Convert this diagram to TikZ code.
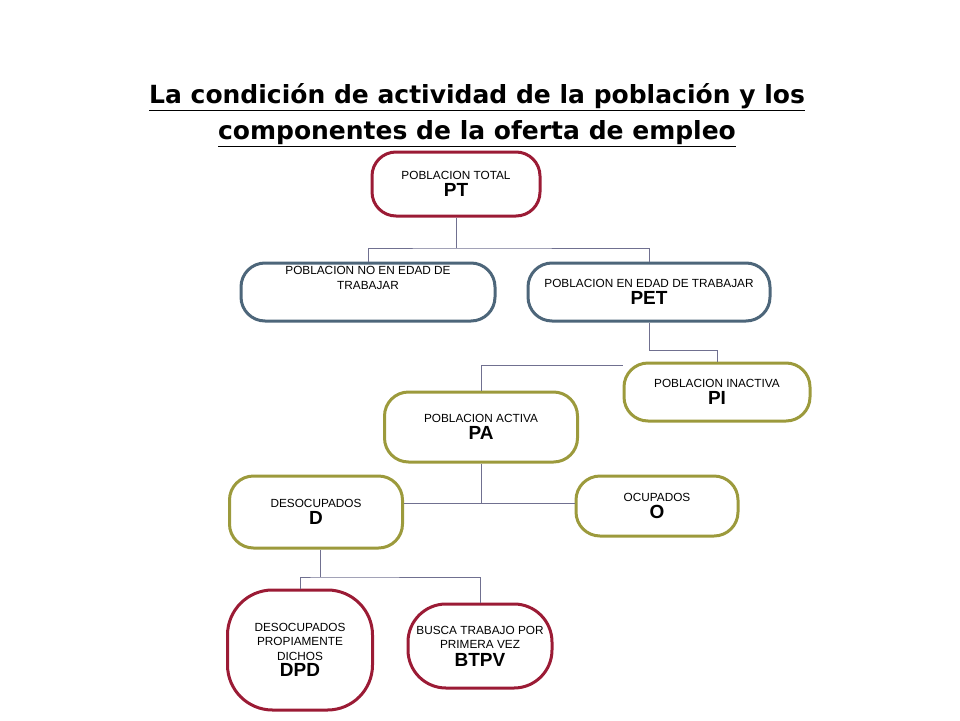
\documentclass[tikz,border=0pt]{standalone}
\usepackage{fontspec}
\setmainfont{Liberation Sans}
\newfontfamily\titlefont{DejaVu Sans}
\definecolor{cred}{HTML}{9B1B35}
\definecolor{cblue}{HTML}{4D667A}
\definecolor{colive}{HTML}{9C9A3C}
\definecolor{cline}{HTML}{707090}
\begin{document}
\begin{tikzpicture}[x=1pt,y=-1pt,
  box/.style={draw, line width=3pt, rounded corners=24pt, align=center, inner sep=0pt, font=\fontsize{11.8}{14.5}\selectfont},
  conn/.style={draw=cline, line width=0.9pt}]
\useasboundingbox (0,0) rectangle (960,720);
\node[font=\titlefont\bfseries\fontsize{25}{36}\selectfont, align=center] (title) at (477,115)
 {\underline{La condición de actividad de la población y los}\\\underline{componentes de la oferta de empleo}};
\newcommand\bx[7]{\node[box, draw=#6, minimum width=#3, minimum height=#4] (#1) at (#2) {#5\\[3pt]{\bfseries\fontsize{19}{20}\selectfont #7}};}
\bx{PT}{456,184}{168}{64}{POBLACION TOTAL}{cred}{PT}
\node[box, draw=cblue, minimum width=254, minimum height=58] (PNET) at (368,292) {POBLACION NO EN EDAD DE\\TRABAJAR\\[14pt]};
\bx{PET}{649,292}{242}{58}{POBLACION EN EDAD DE TRABAJAR}{cblue}{PET}
\bx{PI}{717,392}{186}{58}{POBLACION INACTIVA}{colive}{PI}
\bx{PA}{481,427}{193}{70}{POBLACION ACTIVA}{colive}{PA}
\bx{D}{316,512}{173}{72}{DESOCUPADOS}{colive}{D}
\bx{O}{657,506}{162}{60}{OCUPADOS}{colive}{O}
\node[box, draw=cred, rounded corners=45pt, minimum width=145, minimum height=120] (DPD) at (300,650) {DESOCUPADOS\\PROPIAMENTE\\DICHOS\\[2pt]{\bfseries\fontsize{19}{20}\selectfont DPD}};
\node[box, draw=cred, rounded corners=38pt, minimum width=144, minimum height=84] (BTPV) at (480,646) {BUSCA TRABAJO POR\\PRIMERA VEZ\\[3pt]{\bfseries\fontsize{19}{20}\selectfont BTPV}};
% connectors
\coordinate (j1) at (456,248);
\draw[conn] (PT.south) -- (j1);
\draw[conn] (PNET.north) |- (j1) -| (PET.north);
\draw[conn] (PET.south) -- ++(0,28) -| (PI.north);
\draw[conn] (PA.north) |- (PI.west |- 0,365);
\coordinate (j2) at (481,503);
\draw[conn] (PA.south) -- (j2);
\draw[conn] (D.east |- j2) -- (O.west |- j2);
\coordinate (j3) at (320,577);
\draw[conn] (D.south -| j3) -- (j3);
\draw[conn] (DPD.north) |- (j3) -| (BTPV.north);
\end{tikzpicture}
\end{document}
